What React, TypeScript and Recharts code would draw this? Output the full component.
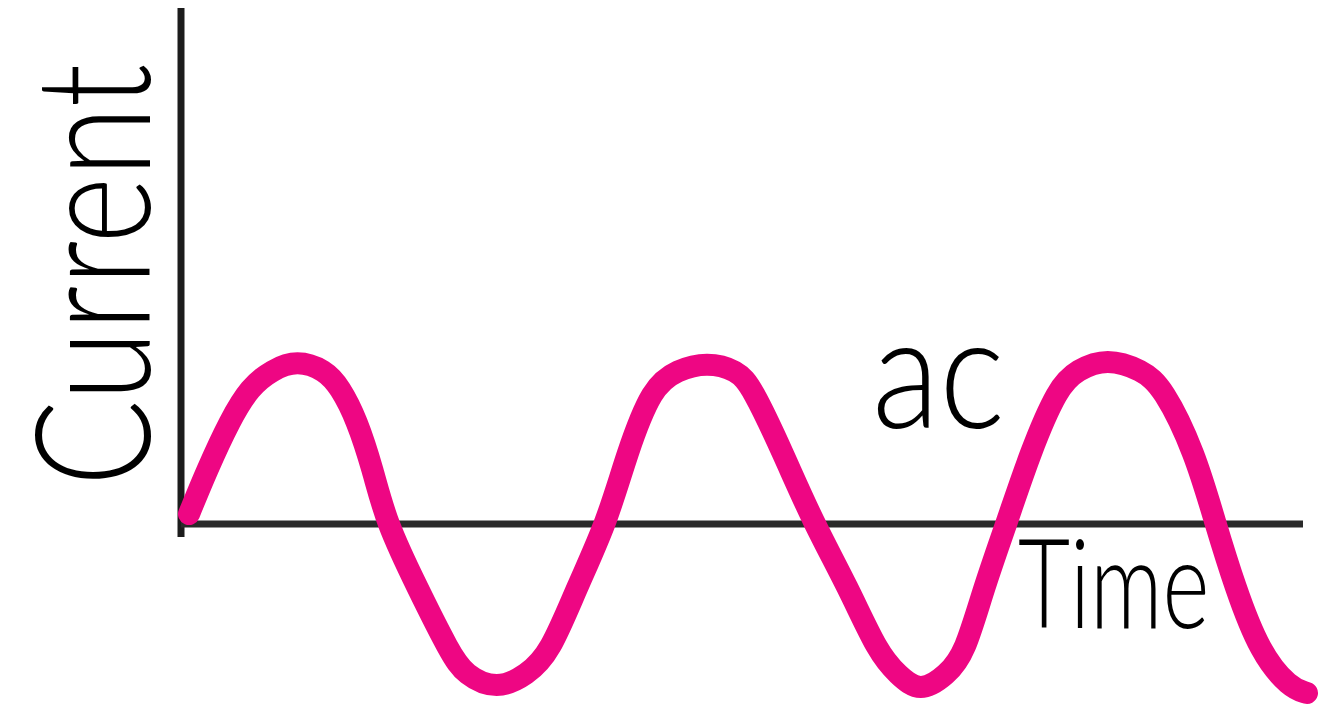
import React from 'react';
import { LineChart, Line, XAxis, YAxis, ReferenceLine } from 'recharts';

// Time (arbitrary units) and current (arbitrary units)
const times = [
  0.8, 2.6, 4.9, 6.9, 9.1, 11.6, 14.4, 15.9, 17.6, 19.2, 20.5, 23.6, 26.9, 28.4, 31.6,
  34.6, 36.9, 39.6, 42.6, 44.6, 47.1, 49.6, 52.6, 55.6, 57.1, 60.2, 63.2, 66.7, 69.7,
  71.7, 73.9, 76.6, 78.4, 80.3, 82.6, 84.9, 87.7, 89.6, 92.6, 96.1, 98.2, 101.4,
  103.4, 105.4, 107.9, 110.9, 112.6,
];
const currents = [
  1.0, 5.4, 10.4, 13.7, 15.4, 16.4, 15.4, 13.7, 10.4, 5.4, 0.2, -6.3, -12.9, -15.1, -16.6,
  -15.1, -12.9, -6.3, 0.2, 7.1, 13.7, 15.4, 16.2, 15.4, 13.7, 7.1, 0.2, -6.3, -12.9,
  -15.1, -16.9, -15.1, -12.9, -6.3, 0.2, 7.1, 13.7, 15.4, 16.6, 15.4, 13.7, 7.1,
  0.2, -6.3, -12.9, -16.4, -16.9,
];

const yAxisTitle = 'Current';
const xAxisTitle = 'Time';
const waveLabel = 'ac';

const data = times.map((t, i) => ({ time: t, current: currents[i] }));

const W = 1319;
const H = 711;
const fontFamily = 'Lato, "Noto Sans", sans-serif';

export default function App() {
  return (
    <div style={{ position: 'fixed', left: 0, top: 0, width: W, height: H, background: '#fff' }}>
      <LineChart width={W} height={H} data={data} margin={{ top: 8, right: 12, bottom: 0, left: 181 }}>
        <XAxis type="number" dataKey="time" domain={[0, 112.6]} hide />
        <YAxis type="number" domain={[-18.7, 51.6]} hide />
        <ReferenceLine
          segment={[{ x: 0, y: -1.3 }, { x: 0, y: 51.6 }]}
          stroke="#1c1c1c"
          strokeWidth={7}
          ifOverflow="visible"
        />
        <ReferenceLine
          segment={[{ x: 0, y: 0 }, { x: 112.2, y: 0 }]}
          stroke="#2a2a2a"
          strokeWidth={7}
          ifOverflow="visible"
        />
        <Line
          type="basis"
          dataKey="current"
          stroke="#EE0683"
          strokeWidth={22}
          strokeLinecap="round"
          strokeLinejoin="round"
          dot={false}
          activeDot={false}
          isAnimationActive={false}
        />
      </LineChart>
      <svg width={W} height={H} style={{ position: 'absolute', left: 0, top: 0, pointerEvents: 'none' }}>
        <g transform="translate(150,275) rotate(-90) scale(0.8,1)">
          <text
            x={0}
            y={0}
            textAnchor="middle"
            fontFamily={fontFamily}
            fontWeight={300}
            fontSize={160}
            fill="#000"
          >
            {yAxisTitle}
          </text>
        </g>
        <g transform="translate(872,428) scale(0.88,1)">
          <text
            x={0}
            y={0}
            fontFamily={fontFamily}
            fontWeight={300}
            fontSize={158}
            fill="#000"
          >
            {waveLabel}
          </text>
        </g>
        <g transform="translate(1018,628) scale(0.72,1)">
          <text
            x={0}
            y={0}
            fontFamily={fontFamily}
            fontWeight={300}
            fontSize={125}
            fill="#000"
          >
            {xAxisTitle}
          </text>
        </g>
      </svg>
    </div>
  );
}
